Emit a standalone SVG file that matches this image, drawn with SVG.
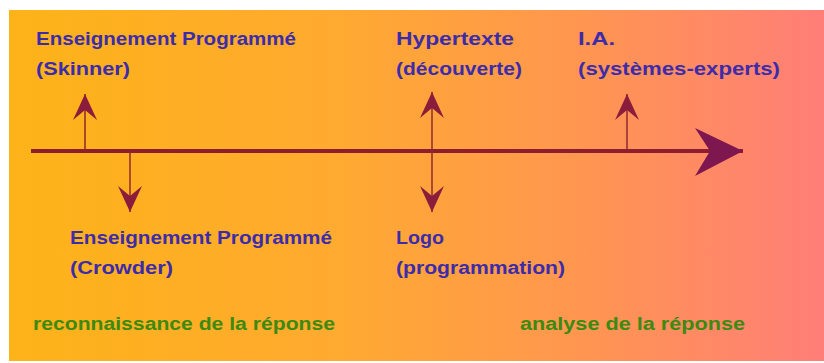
<svg xmlns="http://www.w3.org/2000/svg" width="824" height="363" viewBox="0 0 824 363">
  <defs>
    <linearGradient id="bg" x1="9" y1="0" x2="824" y2="0" gradientUnits="userSpaceOnUse">
      <stop offset="0" stop-color="#FDB318"/>
      <stop offset="0.4" stop-color="#FFAA30"/>
      <stop offset="0.7" stop-color="#FF9650"/>
      <stop offset="1" stop-color="#FF7E78"/>
    </linearGradient>
    <marker id="small" markerUnits="userSpaceOnUse" markerWidth="30" markerHeight="30" viewBox="-28 -15 30 30" refX="0" refY="0" orient="auto">
      <path d="M0,0 L-26,-12 L-16,0 L-26,12 Z" fill="#8C1C3C"/>
    </marker>
    <marker id="big" markerUnits="userSpaceOnUse" markerWidth="52" markerHeight="52" viewBox="-50 -26 52 52" refX="0" refY="0" orient="auto">
      <path d="M0,0 L-48,-23 L-33,0 L-48,25 Z" fill="#7E1650"/>
    </marker>
  </defs>
  <style>
    .lbl { font-family: "Liberation Sans", Arial, sans-serif; font-weight: bold; font-size: 18px; fill: #3D2CAA; }
    .grn { font-family: "Liberation Sans", Arial, sans-serif; font-weight: bold; font-size: 18px; fill: #3C8A12; }
    .shaft { stroke: #8C2A30; stroke-width: 1.5; fill: none; }
  </style>
  <rect x="0" y="0" width="824" height="363" fill="#FFFFFF"/>
  <rect x="9" y="10" width="815" height="351" fill="url(#bg)"/>

  <g id="connectors">
    <line x1="31" y1="151" x2="743" y2="151" stroke="#8C1E30" stroke-width="4" marker-end="url(#big)"/>
    <line class="shaft" x1="85" y1="150" x2="85" y2="94" marker-end="url(#small)"/>
    <line class="shaft" x1="130" y1="152" x2="130" y2="212" marker-end="url(#small)"/>
    <line class="shaft" x1="432" y1="151" x2="432" y2="92" marker-end="url(#small)"/>
    <line class="shaft" x1="432" y1="151" x2="432" y2="212" marker-end="url(#small)"/>
    <line class="shaft" x1="627" y1="150" x2="627" y2="94" marker-end="url(#small)"/>
  </g>

  <g id="skinner">
    <text class="lbl" x="36" y="45" textLength="260" lengthAdjust="spacingAndGlyphs">Enseignement Programmé</text>
    <text class="lbl" x="36" y="75" textLength="94" lengthAdjust="spacingAndGlyphs">(Skinner)</text>
  </g>
  <g id="hypertexte">
    <text class="lbl" x="396" y="45" textLength="118" lengthAdjust="spacingAndGlyphs">Hypertexte</text>
    <text class="lbl" x="396" y="75" textLength="126" lengthAdjust="spacingAndGlyphs">(découverte)</text>
  </g>
  <g id="ia">
    <text class="lbl" x="578" y="45" textLength="37" lengthAdjust="spacingAndGlyphs">I.A.</text>
    <text class="lbl" x="578" y="75" textLength="202" lengthAdjust="spacingAndGlyphs">(systèmes-experts)</text>
  </g>
  <g id="crowder">
    <text class="lbl" x="70" y="244" textLength="262" lengthAdjust="spacingAndGlyphs">Enseignement Programmé</text>
    <text class="lbl" x="70" y="274" textLength="103" lengthAdjust="spacingAndGlyphs">(Crowder)</text>
  </g>
  <g id="logo">
    <text class="lbl" x="396" y="244" textLength="48" lengthAdjust="spacingAndGlyphs">Logo</text>
    <text class="lbl" x="396" y="274" textLength="169" lengthAdjust="spacingAndGlyphs">(programmation)</text>
  </g>
  <g id="reconnaissance">
    <text class="grn" x="33" y="330" textLength="302" lengthAdjust="spacingAndGlyphs">reconnaissance de la réponse</text>
  </g>
  <g id="analyse">
    <text class="grn" x="520" y="330" textLength="225" lengthAdjust="spacingAndGlyphs">analyse de la réponse</text>
  </g>
</svg>
